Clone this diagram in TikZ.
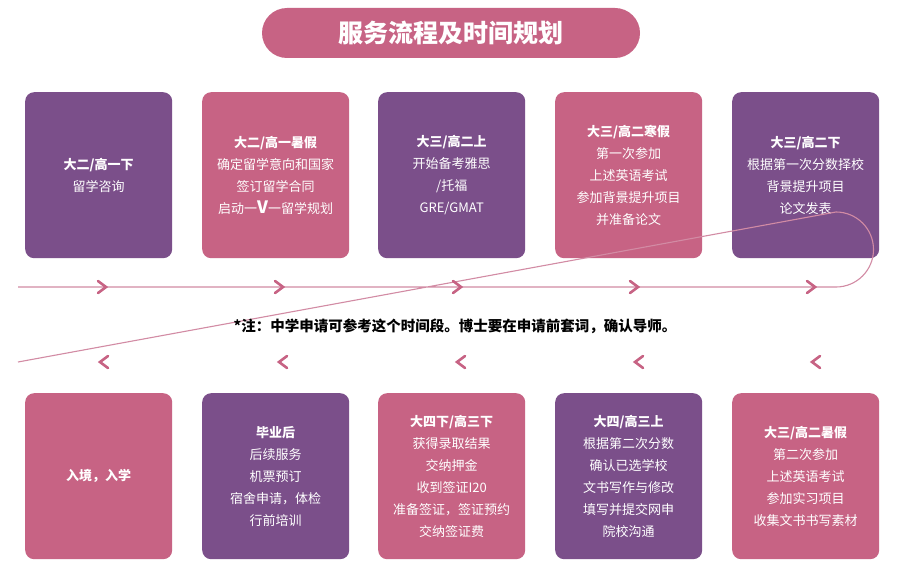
\documentclass[tikz,border=0pt]{standalone}
\usepackage{fontspec}
\setmainfont{Noto Sans CJK SC}
\begin{document}
\begin{tikzpicture}[x=1pt,y=-1pt,
  pu/.style={fill=purp,rounded corners=9pt,minimum width=147pt,minimum height=166pt,anchor=north west,inner sep=0pt,text=white,align=center,font=\fontsize{13}{22}\selectfont},
  pk/.style={pu,fill=pink1},
  chev/.style={draw=pink1,line width=2.6pt,line cap=round,line join=miter},
  track/.style={draw=pinkl,line width=1.1pt}]
\definecolor{purp}{HTML}{7B4F8A}
\definecolor{pink1}{HTML}{C76384}
\definecolor{pinkl}{HTML}{D28BA4}
\fill[white] (0,0) rectangle (900,575);
\useasboundingbox (0,0) rectangle (900,575);
\node[fill=pink1,rounded corners=25pt,minimum width=378pt,minimum height=50pt,inner sep=0pt,text=white,font=\fontsize{25}{25}\selectfont\bfseries] (title) at (451,33) {服务流程及时间规划};
% top row
\node[pu] (t1) at (25,92) {\textbf{大二/高一下}\\留学咨询};
\node[pk] (t2) at (202,92) {\textbf{大二/高一暑假}\\确定留学意向和国家\\签订留学合同\\启动一{\fontsize{17}{17}\selectfont\bfseries V}一留学规划};
\node[pu] (t3) at (378,92) {\textbf{大三/高二上}\\开始备考雅思\\/托福\\GRE/GMAT};
\node[pk] (t4) at (555,92) {\textbf{大三/高二寒假}\\第一次参加\\上述英语考试\\参加背景提升项目\\并准备论文};
\node[pu] (t5) at (732,92) {\textbf{大三/高二下}\\根据第一次分数择校\\背景提升项目\\论文发表};
% bottom row
\node[pk] (b1) at (25,393) {\textbf{入境，入学}};
\node[pu] (b2) at (202,393) {\textbf{毕业后}\\后续服务\\机票预订\\宿舍申请，体检\\行前培训};
\node[pk] (b3) at (378,393) {\textbf{大四下/高三下}\\获得录取结果\\交纳押金\\收到签证I20\\准备签证，签证预约\\交纳签证费};
\node[pu] (b4) at (555,393) {\textbf{大四/高三上}\\根据第二次分数\\确认已选学校\\文书写作与修改\\填写并提交网申\\院校沟通};
\node[pk] (b5) at (732,393) {\textbf{大三/高二暑假}\\第二次参加\\上述英语考试\\参加实习项目\\收集文书书写素材};
% track
\coordinate (ua) at (18,287);
\coordinate (ub) at (836,287);
\coordinate (la) at (836,362);
\coordinate (lb) at (18,362);
\draw[track] (ua) -- (ub) arc[start angle=90,end angle=-90,radius=37.5] -- (lb);
\foreach \x in {103,280,458,635,812}{
  \draw[chev] (\x-5,281) -- (\x+3,287) -- (\x-5,293);
}
\foreach \x in {103,282,460,638,815}{
  \draw[chev] (\x+5,356) -- (\x-3,362) -- (\x+5,368);
}
\node[font=\fontsize{14.5}{14.5}\selectfont\bfseries] (note) at (455,326) {*注：中学申请可参考这个时间段。博士要在申请前套词，确认导师。};
\end{tikzpicture}
\end{document}
